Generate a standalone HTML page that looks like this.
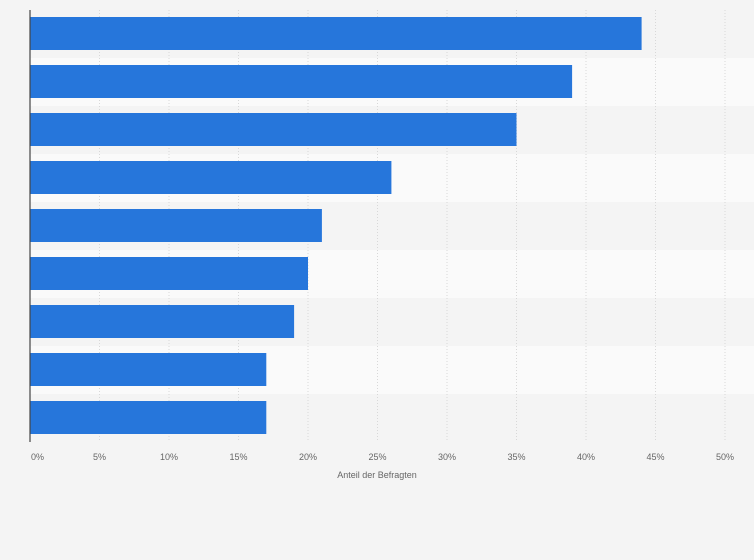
<!DOCTYPE html>
<html><head><meta charset="utf-8"><style>
html,body{margin:0;padding:0;background:#f4f4f4;}
svg{display:block;font-family:"Liberation Sans",sans-serif;}
</style></head><body>
<svg id="chart" width="754" height="560" viewBox="0 0 754 560" xmlns="http://www.w3.org/2000/svg">
<rect x="0" y="0" width="754" height="560" fill="#f4f4f4"/>
<g id="bands"></g><g id="grid"></g><g id="bars"></g><g id="ticks"></g>
<line x1="30" y1="10" x2="30" y2="442" stroke="#444" stroke-width="1.2"/>
<text x="377" y="478" font-size="9" fill="#666" text-anchor="middle">Anteil der Befragten</text>
</svg>
<script>
const values = [44, 39, 35, 26, 21, 20, 19, 17, 17];
const tickValues = [0, 5, 10, 15, 20, 25, 30, 35, 40, 45, 50];
const tickLabels = ["0%","5%","10%","15%","20%","25%","30%","35%","40%","45%","50%"];
const NS="http://www.w3.org/2000/svg";
const x0=30, x1=725, chartTop=10, rowH=48;
const xs=v=>x0+(v/50)*(x1-x0);
const bands=document.getElementById('bands'),grid=document.getElementById('grid'),bars=document.getElementById('bars'),ticks=document.getElementById('ticks');
function mk(tag,attrs){const e=document.createElementNS(NS,tag);for(const k in attrs)e.setAttribute(k,attrs[k]);return e;}
values.forEach((v,i)=>{
  const b=mk('rect',{x:x0,y:chartTop+i*rowH,width:754-x0,height:rowH,fill:i%2?'#fafafa':'#f4f4f4'});
  
  
  bands.appendChild(b);
});
tickValues.forEach((t,i)=>{
  if(t>0){const g=mk('line',{x1:xs(t),y1:chartTop,x2:xs(t),y2:chartTop+values.length*rowH,stroke:'#d8d8d8','stroke-dasharray':'1,2'});
  
  
  grid.appendChild(g);}
  const tx=mk('text',{x:t===0?31:xs(t),y:460,'font-size':9,fill:'#666','text-anchor':t===0?'start':'middle'});
  tx.textContent=tickLabels[i];
  
  
  ticks.appendChild(tx);
});
values.forEach((v,i)=>{
  const r=mk('rect',{x:x0,y:chartTop+i*rowH+7,width:xs(v)-x0,height:33,fill:'#2676db'});
  
  
  bars.appendChild(r);
});
</script>
</body></html>
